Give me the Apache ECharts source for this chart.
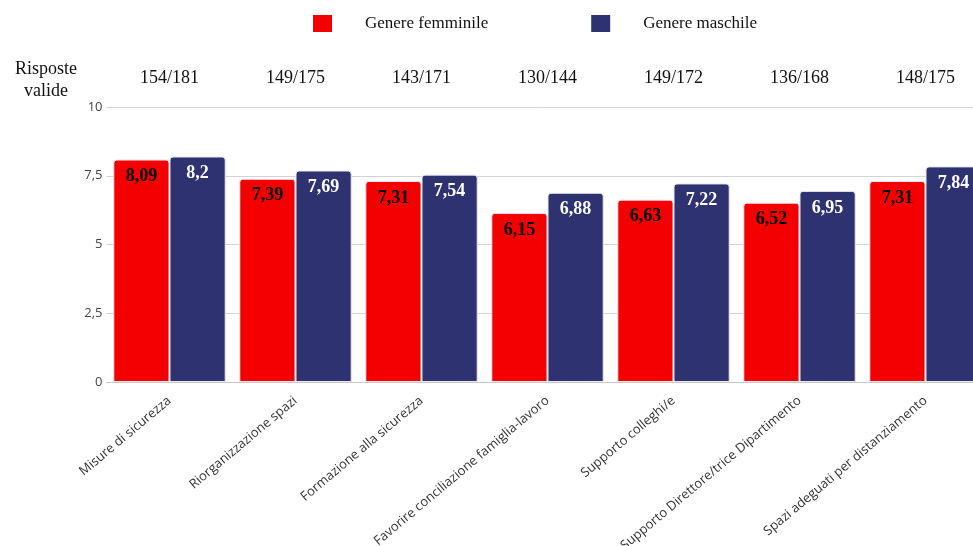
<!DOCTYPE html>
<html>
<head>
<meta charset="utf-8">
<script src="https://cdn.jsdelivr.net/npm/echarts@6/dist/echarts.min.js"></script>
<style>
  html, body { margin: 0; padding: 0; background: #fff; }
  #chart { width: 973px; height: 546px; }
</style>
</head>
<body>
<div id="chart"></div>
<script>
// Categorie valutate
const categories = [
  'Misure di sicurezza',
  'Riorganizzazione spazi',
  'Formazione alla sicurezza',
  'Favorire conciliazione famiglia-lavoro',
  'Supporto colleghi/e',
  'Supporto Direttore/trice Dipartimento',
  'Spazi adeguati per distanziamento'
];
// Risposte valide (femminile/maschile)
const risposteValide = ['154/181', '149/175', '143/171', '130/144', '149/172', '136/168', '148/175'];
// Punteggi medi
const femminile = [8.09, 7.39, 7.31, 6.15, 6.63, 6.52, 7.31];
const maschile = [8.2, 7.69, 7.54, 6.88, 7.22, 6.95, 7.84];
// Tacche asse Y
const yTicks = [0, 2.5, 5, 7.5, 10];

const fmtIt = v => String(v).replace('.', ',');
const serif = '"Liberation Serif", "DejaVu Serif", serif';
const sans = '"Open Sans", "Noto Sans", sans-serif';

const chart = echarts.init(document.getElementById('chart'), null, { renderer: 'canvas' });

function barSeries(name, data, color, labelColor) {
  return {
    name: name,
    type: 'bar',
    data: data,
    barGap: '0%',
    barCategoryGap: '10.8%',
    itemStyle: {
      color: color,
      borderColor: '#e8e8ee',
      borderWidth: 1,
      borderRadius: [3, 3, 0, 0]
    },
    label: {
      show: true,
      position: 'insideTop',
      distance: 8,
      formatter: p => fmtIt(p.value),
      color: labelColor,
      fontFamily: serif,
      fontWeight: 'bold',
      fontSize: 18
    }
  };
}

chart.setOption({
  animation: false,
  title: {
    text: 'Risposte\nvalide',
    left: 41,
    top: 53,
    textAlign: 'center',
    textStyle: {
      fontFamily: serif,
      fontWeight: 'normal',
      fontSize: 18,
      lineHeight: 22,
      color: '#111'
    }
  },
  legend: {
    left: 313,
    top: 15,
    padding: 0,
    itemWidth: 19,
    itemHeight: 17,
    itemGap: 103,
    icon: 'rect',
    itemStyle: { borderWidth: 0 },
    textStyle: {
      fontFamily: serif,
      fontSize: 17,
      color: '#111',
      padding: [0, 0, 0, 28]
    },
    data: ['Genere femminile', 'Genere maschile']
  },
  grid: {
    left: 106.5,
    width: 882,
    top: 107,
    height: 275,
    outerBoundsMode: 'none'
  },
  xAxis: [
    {
      type: 'category',
      data: categories,
      axisTick: { show: false },
      axisLine: { show: true, lineStyle: { color: '#c8c8c8' } },
      axisLabel: {
        rotate: 40,
        interval: 0,
        margin: 17,
        fontFamily: sans,
        fontSize: 13,
        color: '#333'
      }
    },
    {
      type: 'category',
      position: 'top',
      data: risposteValide,
      axisTick: { show: false },
      axisLine: { show: false },
      axisLabel: {
        interval: 0,
        margin: 20,
        fontFamily: serif,
        fontSize: 18,
        color: '#111'
      }
    }
  ],
  yAxis: {
    type: 'value',
    min: yTicks[0],
    max: yTicks[yTicks.length - 1],
    interval: yTicks[1] - yTicks[0],
    axisLine: { show: false },
    axisTick: { show: false },
    splitLine: { lineStyle: { color: '#d4d4d4' } },
    axisLabel: {
      margin: 4,
      formatter: v => fmtIt(v),
      fontFamily: sans,
      fontSize: 13,
      color: '#444'
    }
  },
  series: [
    barSeries('Genere femminile', femminile, '#f40000', '#000'),
    barSeries('Genere maschile', maschile, '#2e3270', '#fff')
  ]
});
</script>
</body>
</html>
